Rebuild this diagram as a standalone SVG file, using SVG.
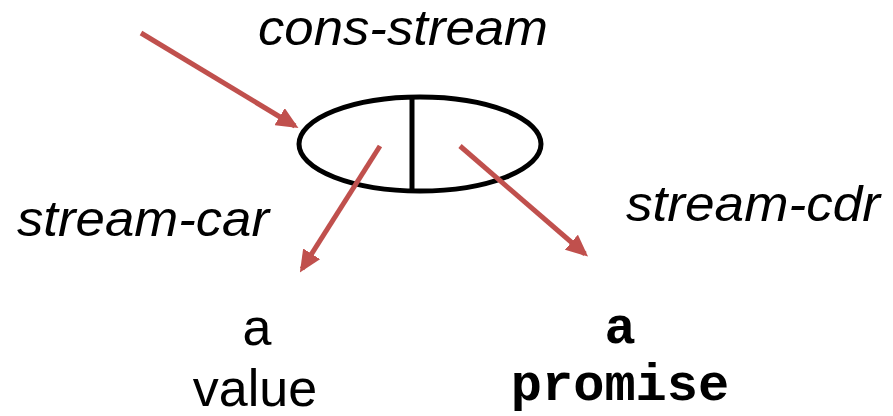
<svg xmlns="http://www.w3.org/2000/svg" width="893" height="416" viewBox="0 0 893 416">
<style>
.lbl{font-family:"Liberation Sans",Arial,sans-serif;font-style:italic;font-size:50px;fill:#000}
.sans{font-family:"Liberation Sans",Arial,sans-serif;font-size:52px;fill:#000}
.mono{font-family:"Liberation Mono","Courier New",monospace;font-weight:bold;font-size:52px;fill:#000}
.arr{stroke:#C0504D;stroke-width:5;fill:none;marker-end:url(#ah)}
</style>
<defs>
<marker id="ah" markerWidth="4.4" markerHeight="4" refX="3.6" refY="2" orient="auto" markerUnits="strokeWidth">
<path d="M0,0 L4.4,2 L0,4 Z" fill="#C0504D"/>
</marker>
</defs>
<g id="cell">
<ellipse cx="420" cy="144" rx="121" ry="47" fill="none" stroke="#000" stroke-width="5"/>
<line x1="412" y1="97" x2="412" y2="191" stroke="#000" stroke-width="5"/>
</g>
<g id="connectors">
<line class="arr" x1="141" y1="33" x2="295" y2="126"/>
<line class="arr" x1="380" y1="146" x2="302" y2="269"/>
<line class="arr" x1="460" y1="146" x2="585" y2="254"/>
</g>
<g id="label-cons"><text class="lbl" x="258" y="45" textLength="290" lengthAdjust="spacingAndGlyphs">cons-stream</text></g>
<g id="label-car"><text class="lbl" x="17" y="236" textLength="252" lengthAdjust="spacingAndGlyphs">stream-car</text></g>
<g id="label-cdr"><text class="lbl" x="626" y="221" textLength="254" lengthAdjust="spacingAndGlyphs">stream-cdr</text></g>
<g id="node-value"><text class="sans" x="257" y="345" text-anchor="middle">a</text><text class="sans" x="255" y="406" text-anchor="middle">value</text></g>
<g id="node-promise"><text class="mono" x="620" y="343" text-anchor="middle">a</text><text class="mono" x="620" y="400" text-anchor="middle">promise</text></g>
</svg>
